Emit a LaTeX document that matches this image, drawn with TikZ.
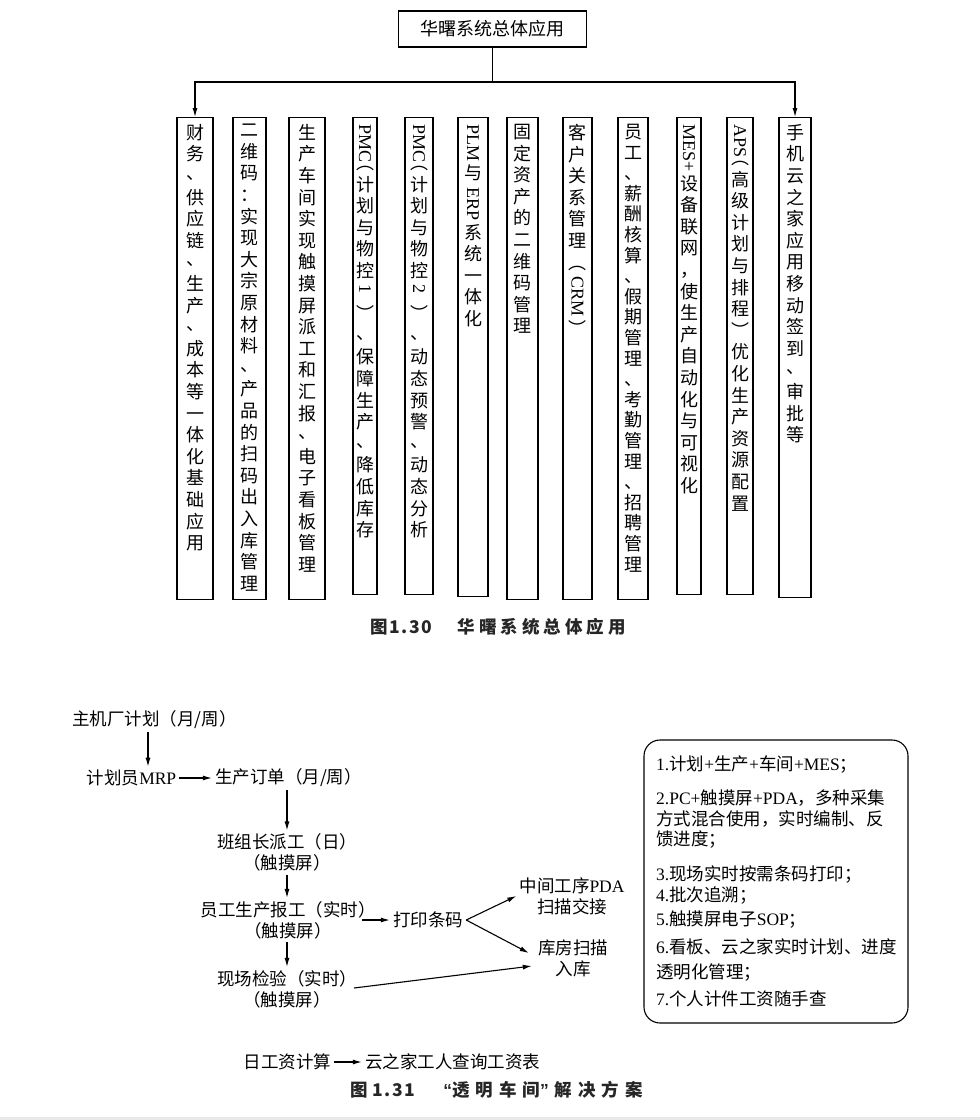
\documentclass[tikz,border=0pt]{standalone}
\usepackage{fontspec}
\usepackage{graphicx}
\setmainfont{Noto Sans CJK SC}
\newfontfamily\lat{Liberation Serif}
\newfontfamily\qsans{Liberation Sans}
\usetikzlibrary{arrows.meta}
\newcommand\rt[1]{\raisebox{14.5pt}{\rotatebox{-90}{\lat #1}}}
\newcommand\dn{\raisebox{3pt}{、}}
\newcommand\lsp{\hspace{4pt}}
\newcommand\lsd{\hspace{1.5pt}}
\newcommand\lsq{\hspace{6pt}}
\newcommand\vfont{\fontsize{18}{21.6}\selectfont\setlength{\lineskip}{4pt}}
\newcommand\vfontb{\fontsize{18}{20.6}\selectfont\setlength{\lineskip}{4pt}}
\begin{document}
\begin{tikzpicture}[x=1pt,y=-1pt,
  line/.style={line width=1.1pt},
  arr/.style={line width=1.1pt,-{Latex[length=9pt,width=5pt]}},
  vbox/.style={draw,line width=1.1pt,inner sep=0pt,anchor=north},
  vt/.style={inner sep=0pt,anchor=north,align=center,font=\vfont},
  flow/.style={inner sep=3pt,align=center,font=\fontsize{17.5}{21}\selectfont},
  item/.style={inner sep=0pt,anchor=west,font=\fontsize{17.5}{21}\selectfont},
  capt/.style={inner sep=0pt,anchor=west,font=\fontsize{17.5}{21}\selectfont\bfseries,text=black!85}
]
\fill[white] (0,0) rectangle (980,1120);
\useasboundingbox (0,0) rectangle (980,1120);
\fill[black!9] (0,1117) rectangle (980,1120);

% ---------- Figure 1.30 ----------
\node[draw,line width=1.1pt,minimum width=188pt,minimum height=36pt,inner sep=0pt,font=\fontsize{18}{21}\selectfont] (title) at (492.5,29) {华曙系统总体应用};

\node[vbox,minimum width=36pt,minimum height=482pt] (b1) at (195,117) {};
\node[vbox,minimum width=33pt,minimum height=482pt] (b2) at (249.5,117) {};
\node[vbox,minimum width=36pt,minimum height=482pt] (b3) at (307,117) {};
\node[vbox,minimum width=24pt,minimum height=477pt] (b4) at (365,117) {};
\node[vbox,minimum width=28pt,minimum height=477pt] (b5) at (419,117) {};
\node[vbox,minimum width=30pt,minimum height=479pt] (b6) at (473,117) {};
\node[vbox,minimum width=31pt,minimum height=482pt] (b7) at (522.5,117) {};
\node[vbox,minimum width=29pt,minimum height=482pt] (b8) at (577.5,117) {};
\node[vbox,minimum width=30pt,minimum height=482pt] (b9) at (633,117) {};
\node[vbox,minimum width=24pt,minimum height=477pt] (b10) at (689,117) {};
\node[vbox,minimum width=26pt,minimum height=477pt] (b11) at (740,117) {};
\node[vbox,minimum width=32pt,minimum height=480pt] (b12) at (795,117) {};

\node[vt] (t1) at ([yshift=-7pt]b1.north) {财\\务\\\dn\\供\\应\\链\\\dn\\生\\产\\\dn\\成\\本\\等\\一\\体\\化\\基\\础\\应\\用};
\node[vt] (t2) at ([yshift=-7pt]b2.north) {二\\维\\码\\：\\实\\现\\大\\宗\\原\\材\\料\\\dn\\产\\品\\的\\扫\\码\\出\\入\\库\\管\\理};
\node[vt] (t3) at ([yshift=-7pt]b3.north) {生\\产\\车\\间\\实\\现\\触\\摸\\屏\\派\\工\\和\\汇\\报\\\dn\\电\\子\\看\\板\\管\\理};
\node[vt] (t4) at ([yshift=-7pt]b4.north) {\rt{PMC}\\︵\\计\\划\\与\\物\\控\\\rt{1}\\︶\\\dn\\保\\障\\生\\产\\\dn\\降\\低\\库\\存};
\node[vt] (t5) at ([yshift=-7pt]b5.north) {\rt{PMC}\\︵\\计\\划\\与\\物\\控\\\rt{2}\\︶\\\dn\\动\\态\\预\\警\\\dn\\动\\态\\分\\析};
\node[vt] (t6) at ([yshift=-7pt]b6.north) {\rt{PLM}\\与\\\rt{ERP}\\系\\统\\一\\体\\化};
\node[vt] (t7) at ([yshift=-7pt]b7.north) {固\\定\\资\\产\\的\\二\\维\\码\\管\\理};
\node[vt] (t8) at ([yshift=-7pt]b8.north) {客\\户\\关\\系\\管\\理\\︵\\\rt{CRM}\\︶};
\node[vt,font=\vfontb] (t9) at ([yshift=-7pt]b9.north) {员\\工\\、\\薪\\酬\\核\\算\\、\\假\\期\\管\\理\\、\\考\\勤\\管\\理\\、\\招\\聘\\管\\理};
\node[vt] (t10) at ([yshift=-7pt]b10.north) {\rt{MES+}\\设\\备\\联\\网\\，\\使\\生\\产\\自\\动\\化\\与\\可\\视\\化};
\node[vt] (t11) at ([yshift=-7pt]b11.north) {\rt{APS}\\︵\\高\\级\\计\\划\\与\\排\\程\\︶\\优\\化\\生\\产\\资\\源\\配\\置};
\node[vt] (t12) at ([yshift=-7pt]b12.north) {手\\机\\云\\之\\家\\应\\用\\移\\动\\签\\到\\\dn\\审\\批\\等};

\coordinate (hl) at (195,82);
\coordinate (hr) at (795,82);
\draw[line] (title.south) -- (title.south |- hl);
\draw[arr] (title.south |- hl) -- (hl) -- (b1.north);
\draw[arr] (title.south |- hr) -- (hr) -- (b12.north);

\node[capt] (cap1) at (370,627) {图\lsd 1\lsd .\lsd 3\lsd 0\hspace{26pt}华\lsp 曙\lsp 系\lsp 统\lsp 总\lsp 体\lsp 应\lsp 用};

% ---------- Figure 1.31 ----------
\node[flow] (n1) at (154.5,720) {主机厂计划（月/周）};
\node[flow] (n2) at (131.5,778) {计划员{\lat MRP}};
\node[flow] (n3) at (288.5,778) {生产订单（月/周）};
\node[flow] (n4) at (287,852.5) {班组长派工（日）\\（触摸屏）};
\node[flow] (n5) at (288,920) {员工生产报工（实时）\\（触摸屏）};
\node[flow] (n6) at (287,989) {现场检验（实时）\\（触摸屏）};
\node[flow] (n7) at (428,920) {打印条码};
\node[flow] (n8) at (572,896) {中间工序{\lat PDA}\\扫描交接};
\node[flow] (n9) at (573,958) {库房扫描\\入库};
\node[flow] (n10) at (287.5,1062) {日工资计算};
\node[flow] (n11) at (452.5,1062) {云之家工人查询工资表};

\coordinate (ca) at (148,0);
\coordinate (cb) at (287,0);
\draw[arr] (n1.south -| ca) -- (n2.north -| ca);
\draw[arr] (n2.east) -- (n3.west);
\draw[arr] (n3.south -| cb) -- (n4.north -| cb);
\draw[arr] (n4.south -| cb) -- (n5.north -| cb);
\draw[arr] (n5.south -| cb) -- (n6.north -| cb);
\coordinate (f0) at (362,920);
\draw[arr] (f0) -- (n7.west);
\draw[arr] (n7.east) -- (n8.west);
\draw[arr] (n7.east) -- ([xshift=-6pt,yshift=5pt]n9.west);
\coordinate (i0) at (354,988);
\draw[arr] (i0) -- ([xshift=-3pt,yshift=-8pt]n9.west);
\draw[arr] (n10.east) -- (n11.west);

\node[draw,line width=1.1pt,rounded corners=16pt,minimum width=264pt,minimum height=283pt,inner sep=0pt] (rb) at (776,881.5) {};
\node[item] (r1) at (656,765) {{\lat 1.}计划{\lat +}生产{\lat +}车间{\lat +MES}；};
\node[item] (r2) at (656,798) {{\lat 2.PC+}触摸屏{\lat +PDA}，多种采集};
\node[item] (r3) at (656,819) {方式混合使用，实时编制、反};
\node[item] (r4) at (656,840) {馈进度；};
\node[item] (r5) at (656,874) {{\lat 3.}现场实时按需条码打印；};
\node[item] (r6) at (656,895) {{\lat 4.}批次追溯；};
\node[item] (r7) at (656,920) {{\lat 5.}触摸屏电子{\lat SOP}；};
\node[item] (r8) at (656,947) {{\lat 6.}看板、云之家实时计划、进度};
\node[item] (r9) at (656,973) {透明化管理；};
\node[item] (r10) at (656,999) {{\lat 7.}个人计件工资随手查};

\node[capt] (cap2) at (350,1090) {图\hspace{5pt}1\lsd .\lsd 3\lsd 1\hspace{28pt}{\qsans\bfseries “}透\lsq 明\lsq 车\lsq 间{\qsans\bfseries ”}\lsq 解\lsq 决\lsq 方\lsq 案};
\end{tikzpicture}
\end{document}
